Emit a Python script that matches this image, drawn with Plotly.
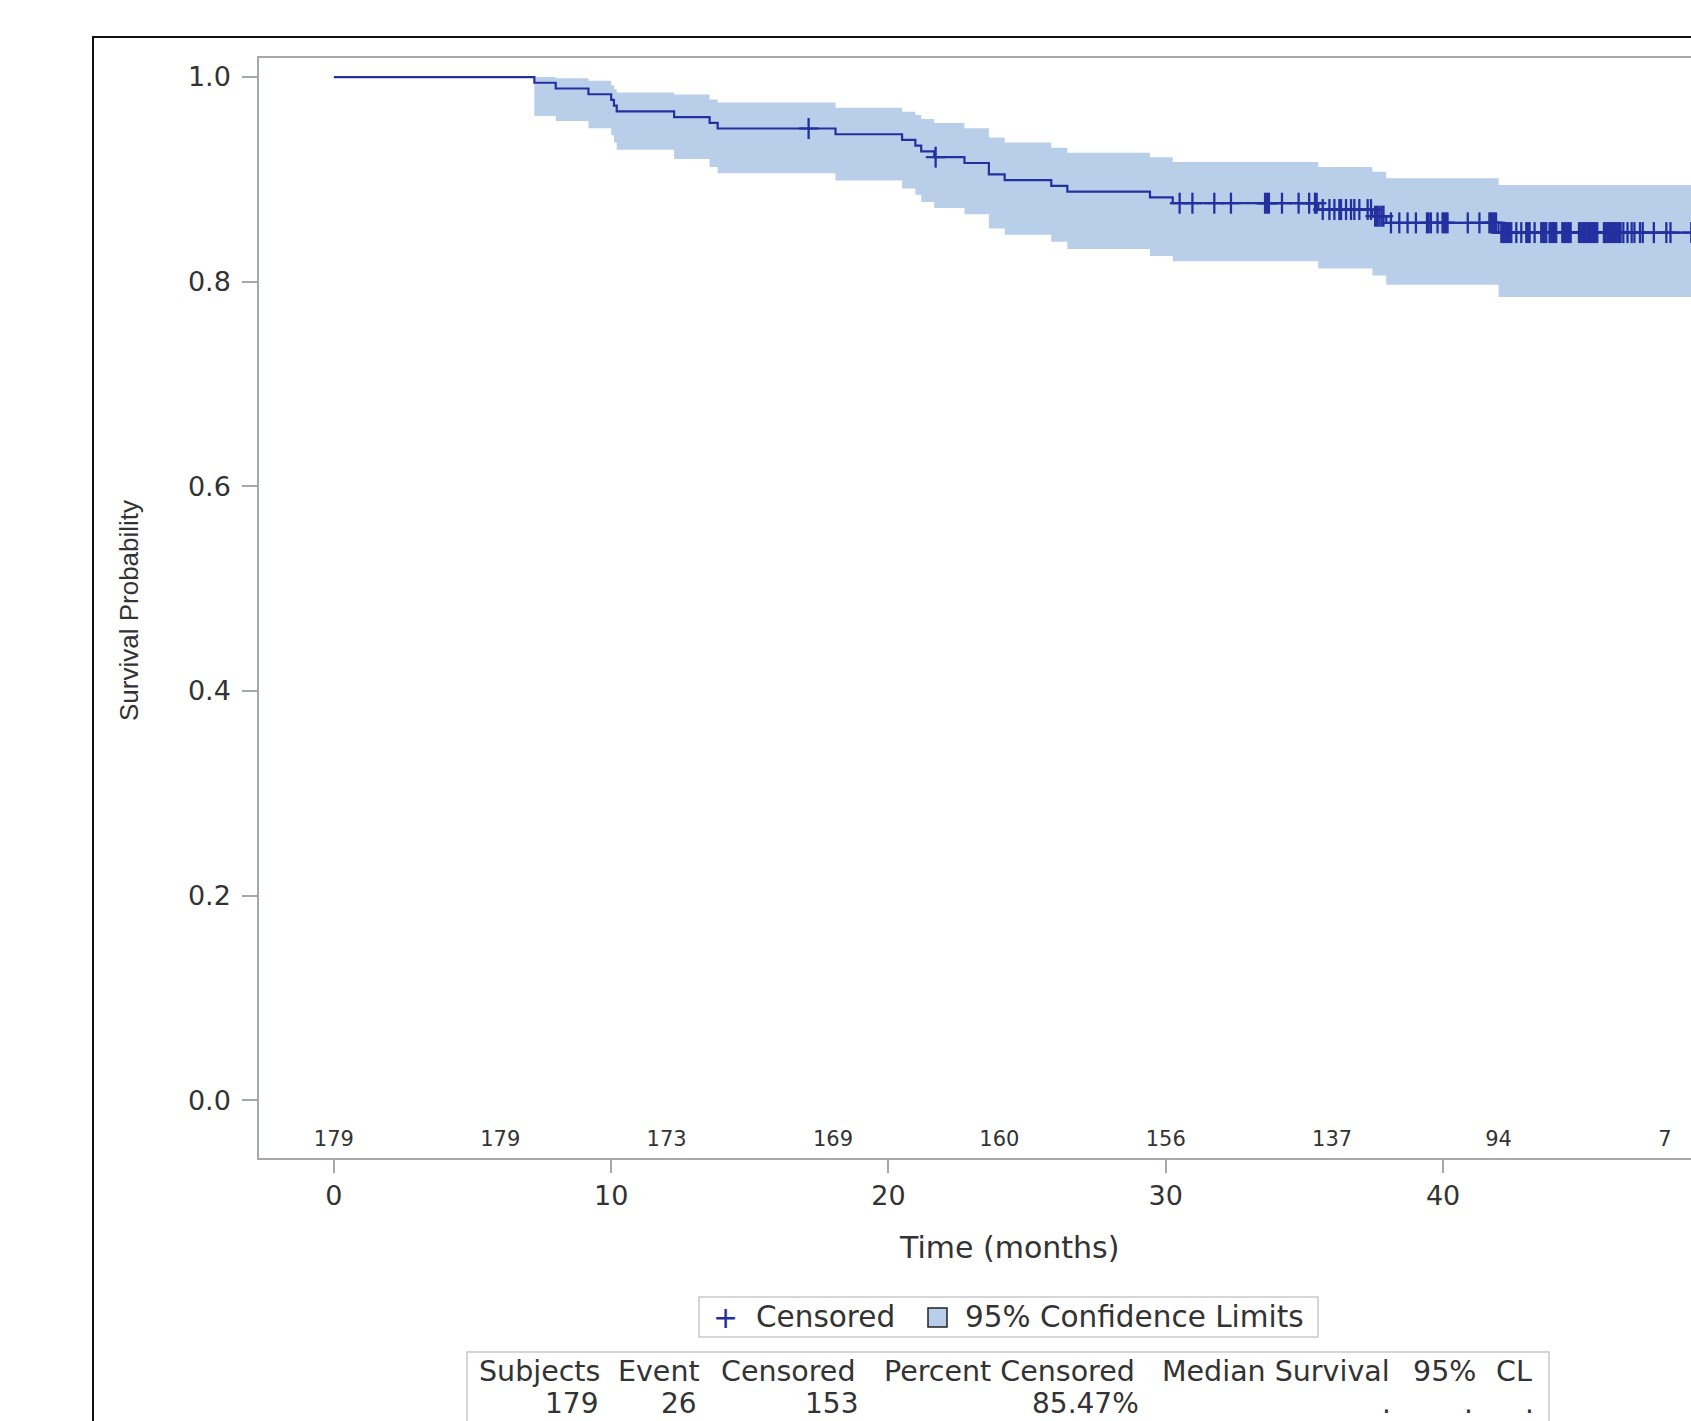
import numpy as np
import plotly.graph_objects as go

# ---------------- data ----------------
event_times = [0.0, 7.23, 8.0, 9.18, 10.0, 10.1, 10.2, 12.27, 13.55, 13.84, 18.09,
               20.49, 20.97, 21.18, 21.65, 22.74, 23.62, 24.19, 25.87, 26.45,
               29.43, 30.25, 35.5, 37.45, 37.95, 42.0]
survival = [1.0, 0.9944, 0.9888, 0.9832, 0.9777, 0.9721, 0.9665, 0.9609, 0.9553,
            0.9497, 0.9441, 0.9385, 0.9329, 0.9273, 0.9217, 0.9160, 0.9048, 0.8992,
            0.8936, 0.8880, 0.8824, 0.8767, 0.8705, 0.8640, 0.8575, 0.8480]
lower_cl = [1.0, 0.962, 0.957, 0.950, 0.943, 0.936, 0.929, 0.920, 0.912, 0.906,
            0.899, 0.891, 0.885, 0.878, 0.872, 0.866, 0.852, 0.846, 0.839, 0.832,
            0.825, 0.820, 0.813, 0.806, 0.797, 0.785]
upper_cl = [1.0, 1.0, 0.9987, 0.9964, 0.992, 0.988, 0.985, 0.983, 0.978, 0.975,
            0.970, 0.966, 0.963, 0.959, 0.955, 0.950, 0.941, 0.936, 0.931, 0.926,
            0.9215, 0.917, 0.912, 0.9075, 0.901, 0.8945]
end_time = 50.0

censor_times = [
    17.12, 21.70,
    30.50, 30.96, 31.75, 32.35, 33.58, 33.65, 33.72, 34.19, 34.79, 35.17, 35.38, 35.44,
    35.66, 35.90, 36.08, 36.26, 36.32, 36.50, 36.68, 36.80, 36.98, 37.28, 37.40,
    37.55, 37.62, 37.70, 37.78, 37.85,
    38.12, 38.42, 38.72, 39.02, 39.42, 39.48, 39.56, 39.80, 39.98, 40.04, 40.10, 40.16,
    40.89, 41.31, 41.67, 41.73, 41.79, 41.85, 41.91,
    42.10, 42.16, 42.22, 42.28, 42.34, 42.40, 42.46, 42.64, 42.82, 43.00, 43.06, 43.12,
    43.30, 43.54, 43.60, 43.66, 43.72, 43.84, 43.90, 43.96, 44.02, 44.08,
    44.30, 44.36, 44.42, 44.48, 44.54, 44.60,
    44.90, 44.96, 45.02, 45.08, 45.14, 45.20, 45.26, 45.32, 45.38, 45.44, 45.50, 45.56,
    45.80, 45.86, 45.92, 45.98, 46.04, 46.10, 46.16, 46.22, 46.28, 46.34, 46.40,
    46.50, 46.65, 46.80, 46.90, 47.10, 47.20, 47.60, 48.05, 48.20, 48.95,
]

risk_times = [0, 6, 12, 18, 24, 30, 36, 42, 48]
risk_counts = [179, 179, 173, 169, 160, 156, 137, 94, 7]

x_ticks = [0, 10, 20, 30, 40, 50]
y_ticks = [0.0, 0.2, 0.4, 0.6, 0.8, 1.0]

table_header = ["Subjects", "Event", "Censored", "Percent Censored",
                "Median Survival", "95%", "CL"]
table_values = ["179", "26", "153", "85.47%", ".", ".", "."]

# ---------------- styling ----------------
W, H = 1691, 1421
L, R, T, B = 259, 0, 58, 263
PW, PH = W - L - R, H - T - B

LINE_C = "#24309f"
BAND_C = "#b9cfe9"
FRAME_C = "#a3a8ad"
TXT_C = "#333333"
FONT = "DejaVu Sans"


def px(x):
    return (x - L) / PW


def py(y):
    return (T + PH - y) / PH


fig = go.Figure()

# confidence band (step)
bx = list(event_times[1:]) + [end_time]
blo = list(lower_cl[1:]) + [lower_cl[-1]]
bup = list(upper_cl[1:]) + [upper_cl[-1]]
fig.add_trace(go.Scatter(x=bx, y=blo, mode="lines", line=dict(width=0, shape="hv"),
                         hoverinfo="skip", showlegend=False))
fig.add_trace(go.Scatter(x=bx, y=bup, mode="lines", line=dict(width=0, shape="hv"),
                         fill="tonexty", fillcolor=BAND_C, hoverinfo="skip",
                         showlegend=False))

# survival curve
sx = list(event_times) + [end_time]
sy = list(survival) + [survival[-1]]
fig.add_trace(go.Scatter(x=sx, y=sy, mode="lines",
                         line=dict(color=LINE_C, width=2.2, shape="hv"),
                         showlegend=False))

# censored marks
ev = np.array(event_times)
sv = np.array(survival)
ct = np.array(censor_times)
cy = sv[np.searchsorted(ev, ct, side="right") - 1]
fig.add_trace(go.Scatter(x=ct, y=cy, mode="markers",
                         marker=dict(symbol="line-ns", size=15,
                                     line=dict(color=LINE_C, width=2.3)),
                         showlegend=False))
fig.add_trace(go.Scatter(x=ct, y=cy, mode="markers",
                         marker=dict(symbol="line-ew", size=14,
                                     line=dict(color=LINE_C, width=2.2)),
                         showlegend=False))

# number at risk
fig.add_trace(go.Scatter(x=risk_times, y=[-0.039] * len(risk_times), mode="text",
                         text=[str(v) for v in risk_counts],
                         textfont=dict(family=FONT, size=21, color=TXT_C),
                         textposition="middle center", showlegend=False,
                         hoverinfo="skip"))

annotations = []
# axis titles
annotations.append(dict(text="Survival Probability", x=px(129), y=py(611),
                        xref="paper", yref="paper", showarrow=False, textangle=-90,
                        font=dict(family="Liberation Sans, Arial", size=26, color=TXT_C),
                        xanchor="center", yanchor="middle"))
annotations.append(dict(text="Time (months)", x=px(1009), y=py(1247),
                        xref="paper", yref="paper", showarrow=False,
                        font=dict(family=FONT, size=30, color=TXT_C),
                        xanchor="center", yanchor="middle"))

# legend
annotations.append(dict(text="+", x=px(725), y=py(1317), xref="paper", yref="paper",
                        showarrow=False, font=dict(family=FONT, size=30, color=LINE_C),
                        xanchor="center", yanchor="middle"))
annotations.append(dict(text="Censored", x=px(754), y=py(1317), xref="paper", yref="paper",
                        showarrow=False, font=dict(family=FONT, size=29.5, color=TXT_C),
                        xanchor="left", yanchor="middle"))
annotations.append(dict(text="95% Confidence Limits", x=px(963), y=py(1317),
                        xref="paper", yref="paper", showarrow=False,
                        font=dict(family=FONT, size=29.5, color=TXT_C),
                        xanchor="left", yanchor="middle"))

# table
header_centers = [539, 659, 788, 1009, 1276, 1444, 1514]
value_rights = [600, 699, 860, 1141, 1393, 1475, 1536]
for h, cx in zip(table_header, header_centers):
    annotations.append(dict(text=h, x=px(cx), y=py(1371), xref="paper", yref="paper",
                            showarrow=False, font=dict(family=FONT, size=28.5, color=TXT_C),
                            xanchor="center", yanchor="middle"))
for v, rx in zip(table_values, value_rights):
    annotations.append(dict(text=v, x=px(rx), y=py(1403), xref="paper", yref="paper",
                            showarrow=False, font=dict(family=FONT, size=28, color=TXT_C),
                            xanchor="right", yanchor="middle"))

shapes = [
    # outer black frame
    dict(type="rect", xref="paper", yref="paper", x0=px(93), y0=py(37), x1=px(1900),
         y1=py(1700), line=dict(color="#111111", width=2)),
    # legend box
    dict(type="rect", xref="paper", yref="paper", x0=px(699), y0=py(1297), x1=px(1318),
         y1=py(1337), line=dict(color="#c9c9c9", width=1.5)),
    # legend swatch
    dict(type="rect", xref="paper", yref="paper", x0=px(928), y0=py(1308), x1=px(947),
         y1=py(1327), line=dict(color="#222222", width=1.5), fillcolor=BAND_C),
    # table box
    dict(type="rect", xref="paper", yref="paper", x0=px(467), y0=py(1352), x1=px(1549),
         y1=py(1600), line=dict(color="#c9c9c9", width=1.5)),
]

fig.update_layout(
    width=W, height=H,
    margin=dict(l=L, r=R, t=T, b=B, pad=0),
    paper_bgcolor="white", plot_bgcolor="white",
    showlegend=False,
    annotations=annotations,
    shapes=shapes,
    xaxis=dict(range=[-2.70, 48.94], tickvals=x_ticks, ticktext=[str(v) for v in x_ticks],
               ticks="outside", ticklen=13, tickwidth=1.5, tickcolor=FRAME_C,
               showline=True, linecolor=FRAME_C, linewidth=1.5, mirror=True,
               showgrid=False, zeroline=False,
               tickfont=dict(family=FONT, size=27, color=TXT_C)),
    yaxis=dict(range=[-0.0563, 1.0186], tickvals=y_ticks,
               ticktext=["%.1f" % v for v in y_ticks],
               ticks="outside", ticklen=15, tickwidth=1.5, tickcolor=FRAME_C,
               showline=True, linecolor=FRAME_C, linewidth=1.5, mirror=False,
               showgrid=False, zeroline=False, ticklabelstandoff=6,
               tickfont=dict(family=FONT, size=27, color=TXT_C)),
)

fig.write_html("out.html", config={"displayModeBar": False},
               post_script="document.body.style.margin='0px';document.body.style.overflow='hidden';")
